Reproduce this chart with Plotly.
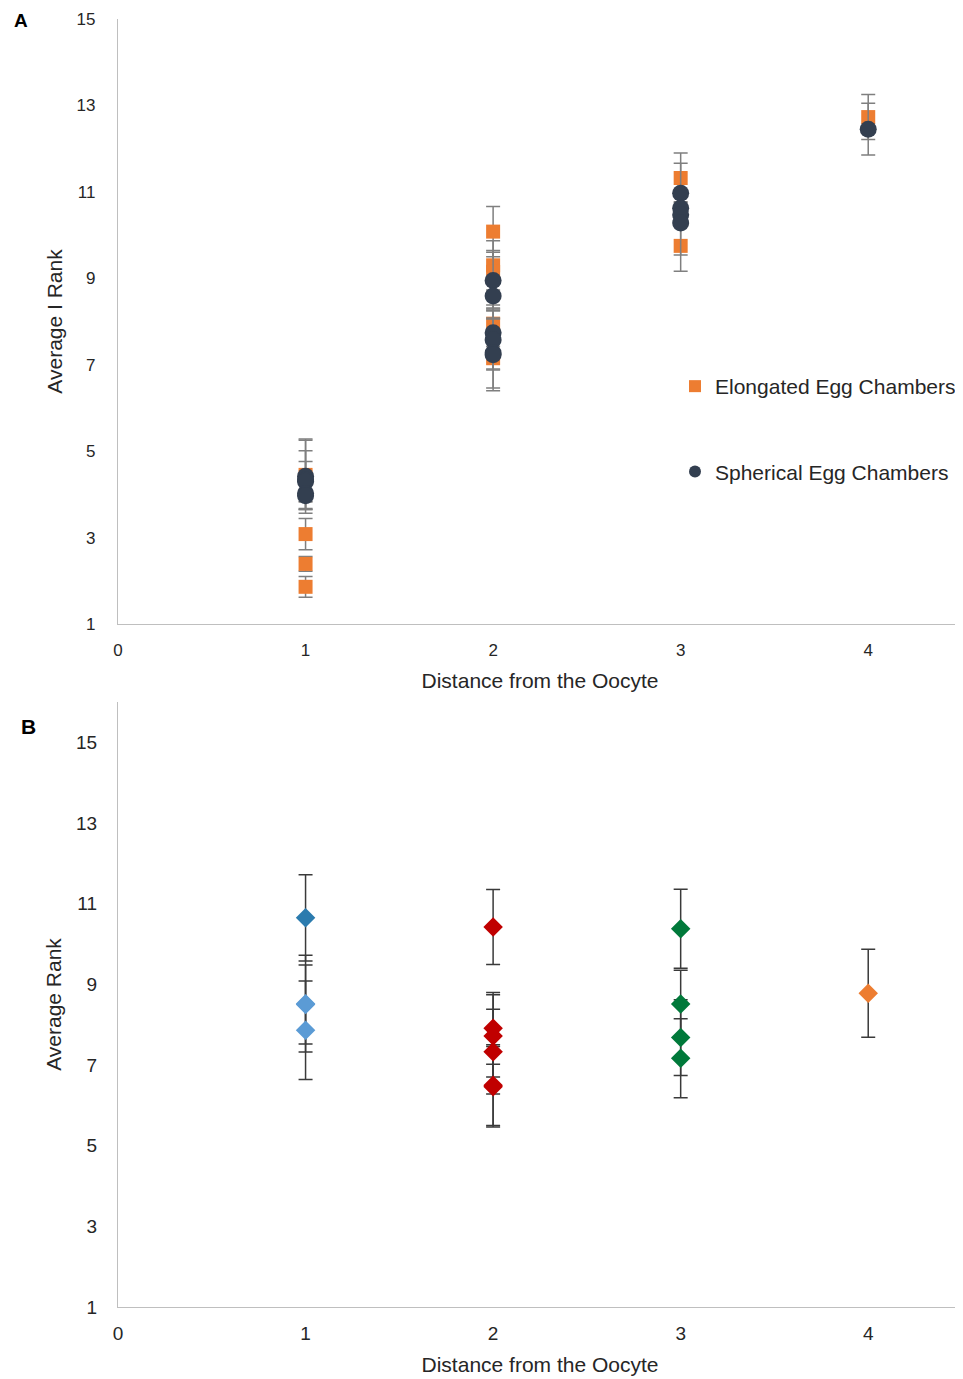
import plotly.graph_objects as go

# ---------------- Panel A data ----------------
elong_x = [1, 1, 1, 1, 2, 2, 2, 2, 2, 3, 3, 4]
elong_y = [4.45, 3.08, 2.39, 1.86, 10.08, 9.30, 9.15, 7.95, 7.15, 11.32, 9.75, 12.73]
elong_err = [0.80, 0.36, 0.17, 0.24, 0.58, 0.57, 0.45, 0.43, 0.27, 0.58, 0.59, 0.52]

spher_x = [1, 1, 1, 1, 1, 2, 2, 2, 2, 2, 2, 3, 3, 3, 3, 4]
spher_y = [4.42, 4.33, 4.30, 4.02, 3.97, 8.95, 8.59, 7.74, 7.57, 7.27, 7.23, 10.97, 10.62, 10.47, 10.28, 12.45]
spher_err = [0.86, 0.68, 0.46, 0.35, 0.15, 0.69, 0.30, 0.57, 0.67, 0.81, 0.83, 0.69, 0.15, 0.15, 0.74, 0.60]

# ---------------- Panel B data ----------------
b_darkblue_x = [1]
b_darkblue_y = [10.65]
b_darkblue_err = [1.07]

b_lightblue_x = [1, 1, 1]
b_lightblue_y = [8.52, 8.50, 7.86]
b_lightblue_err = [1.20, 0.98, 1.22]

b_red_x = [2, 2, 2, 2, 2, 2]
b_red_y = [10.42, 7.91, 7.72, 7.33, 6.50, 6.46]
b_red_err = [0.93, 0.89, 1.02, 1.05, 1.00, 1.00]

b_green_x = [3, 3, 3, 3]
b_green_y = [10.38, 8.51, 7.68, 7.17]
b_green_err = [0.98, 0.84, 0.94, 0.98]

b_orange_x = [4]
b_orange_y = [8.78]
b_orange_err = [1.09]

x_ticks = [0, 1, 2, 3, 4]
y_ticks = [1, 3, 5, 7, 9, 11, 13, 15]

ORANGE = "#ED7D31"
NAVY = "#333F50"
FONT = "Liberation Sans, Arial, sans-serif"

fig = go.Figure()

# Panel A traces
fig.add_trace(go.Scatter(
    x=elong_x, y=elong_y, mode="markers", name="Elongated Egg Chambers",
    marker=dict(symbol="square", size=14, color=ORANGE),
    error_y=dict(type="data", array=elong_err, color="#7f7f7f", thickness=1.5, width=7),
    showlegend=False, xaxis="x", yaxis="y"))
fig.add_trace(go.Scatter(
    x=spher_x, y=spher_y, mode="markers", name="Spherical Egg Chambers",
    marker=dict(symbol="circle", size=17, color=NAVY),
    error_y=dict(type="data", array=spher_err, color="#7f7f7f", thickness=1.5, width=7),
    showlegend=False, xaxis="x", yaxis="y"))

# legend entries
fig.add_trace(go.Scatter(
    x=[None], y=[None], mode="markers", name="Elongated Egg Chambers",
    marker=dict(symbol="square", size=12, color=ORANGE),
    legendgroup="e", xaxis="x", yaxis="y"))
fig.add_trace(go.Scatter(
    x=[None], y=[None], mode="markers", name="Spherical Egg Chambers",
    marker=dict(symbol="circle", size=12, color=NAVY),
    legendgroup="s", xaxis="x", yaxis="y"))

# Panel B traces
for xs, ys, es, col in [
    (b_darkblue_x, b_darkblue_y, b_darkblue_err, "#2B7BAE"),
    (b_lightblue_x, b_lightblue_y, b_lightblue_err, "#5B9BD5"),
    (b_red_x, b_red_y, b_red_err, "#C00000"),
    (b_green_x, b_green_y, b_green_err, "#00793A"),
    (b_orange_x, b_orange_y, b_orange_err, ORANGE),
]:
    fig.add_trace(go.Scatter(
        x=xs, y=ys, mode="markers",
        marker=dict(symbol="diamond", size=15, color=col),
        error_y=dict(type="data", array=es, color="#3a3a3a", thickness=1.5, width=7),
        showlegend=False, xaxis="x2", yaxis="y2"))

axis_line = dict(showline=True, linecolor="#BFBFBF", linewidth=1.3,
                 showgrid=False, zeroline=False, ticks="")

fig.update_layout(
    width=955, height=1371,
    margin=dict(l=110, r=1, t=11, b=72),
    plot_bgcolor="white", paper_bgcolor="white",
    font=dict(family=FONT, color="#262626"),
    xaxis=dict(domain=[0, 1], anchor="y", range=[0, 4.5], tickvals=x_ticks,
               tickfont=dict(size=17), ticklabelstandoff=10,
               title=dict(text="Distance from the Oocyte", font=dict(size=21), standoff=14),
               **axis_line),
    yaxis=dict(domain=[0.5303, 1], anchor="x", range=[1, 15], tickvals=y_ticks,
               tickfont=dict(size=17), ticklabelstandoff=18,
               title=dict(text="Average I Rank", font=dict(size=21), standoff=8),
               **axis_line),
    xaxis2=dict(domain=[0, 1], anchor="y2", range=[0, 4.5], tickvals=x_ticks,
                tickfont=dict(size=19), ticklabelstandoff=9,
                title=dict(text="Distance from the Oocyte", font=dict(size=21), standoff=14),
                **axis_line),
    yaxis2=dict(domain=[0, 0.4697], anchor="x2", range=[1, 16], tickvals=y_ticks,
                tickfont=dict(size=19), ticklabelstandoff=16,
                title=dict(text="Average Rank", font=dict(size=21), standoff=8),
                **axis_line),
    legend=dict(x=(675 - 118) / 844, y=(1307 - 366) / 1288, xanchor="left", yanchor="top",
                font=dict(size=21, color="#262626"), tracegroupgap=55,
                bgcolor="rgba(0,0,0,0)"),
    annotations=[
        dict(text="<b>A</b>", x=(21 - 118) / 844, y=(1307 - 21) / 1288, xref="paper", yref="paper",
             showarrow=False, xanchor="center", yanchor="middle", font=dict(size=19, color="black")),
        dict(text="<b>B</b>", x=(28 - 118) / 844, y=(1307 - 726) / 1288, xref="paper", yref="paper",
             showarrow=False, xanchor="center", yanchor="middle", font=dict(size=21, color="black")),
    ],
)

fig.write_html("out.html")
